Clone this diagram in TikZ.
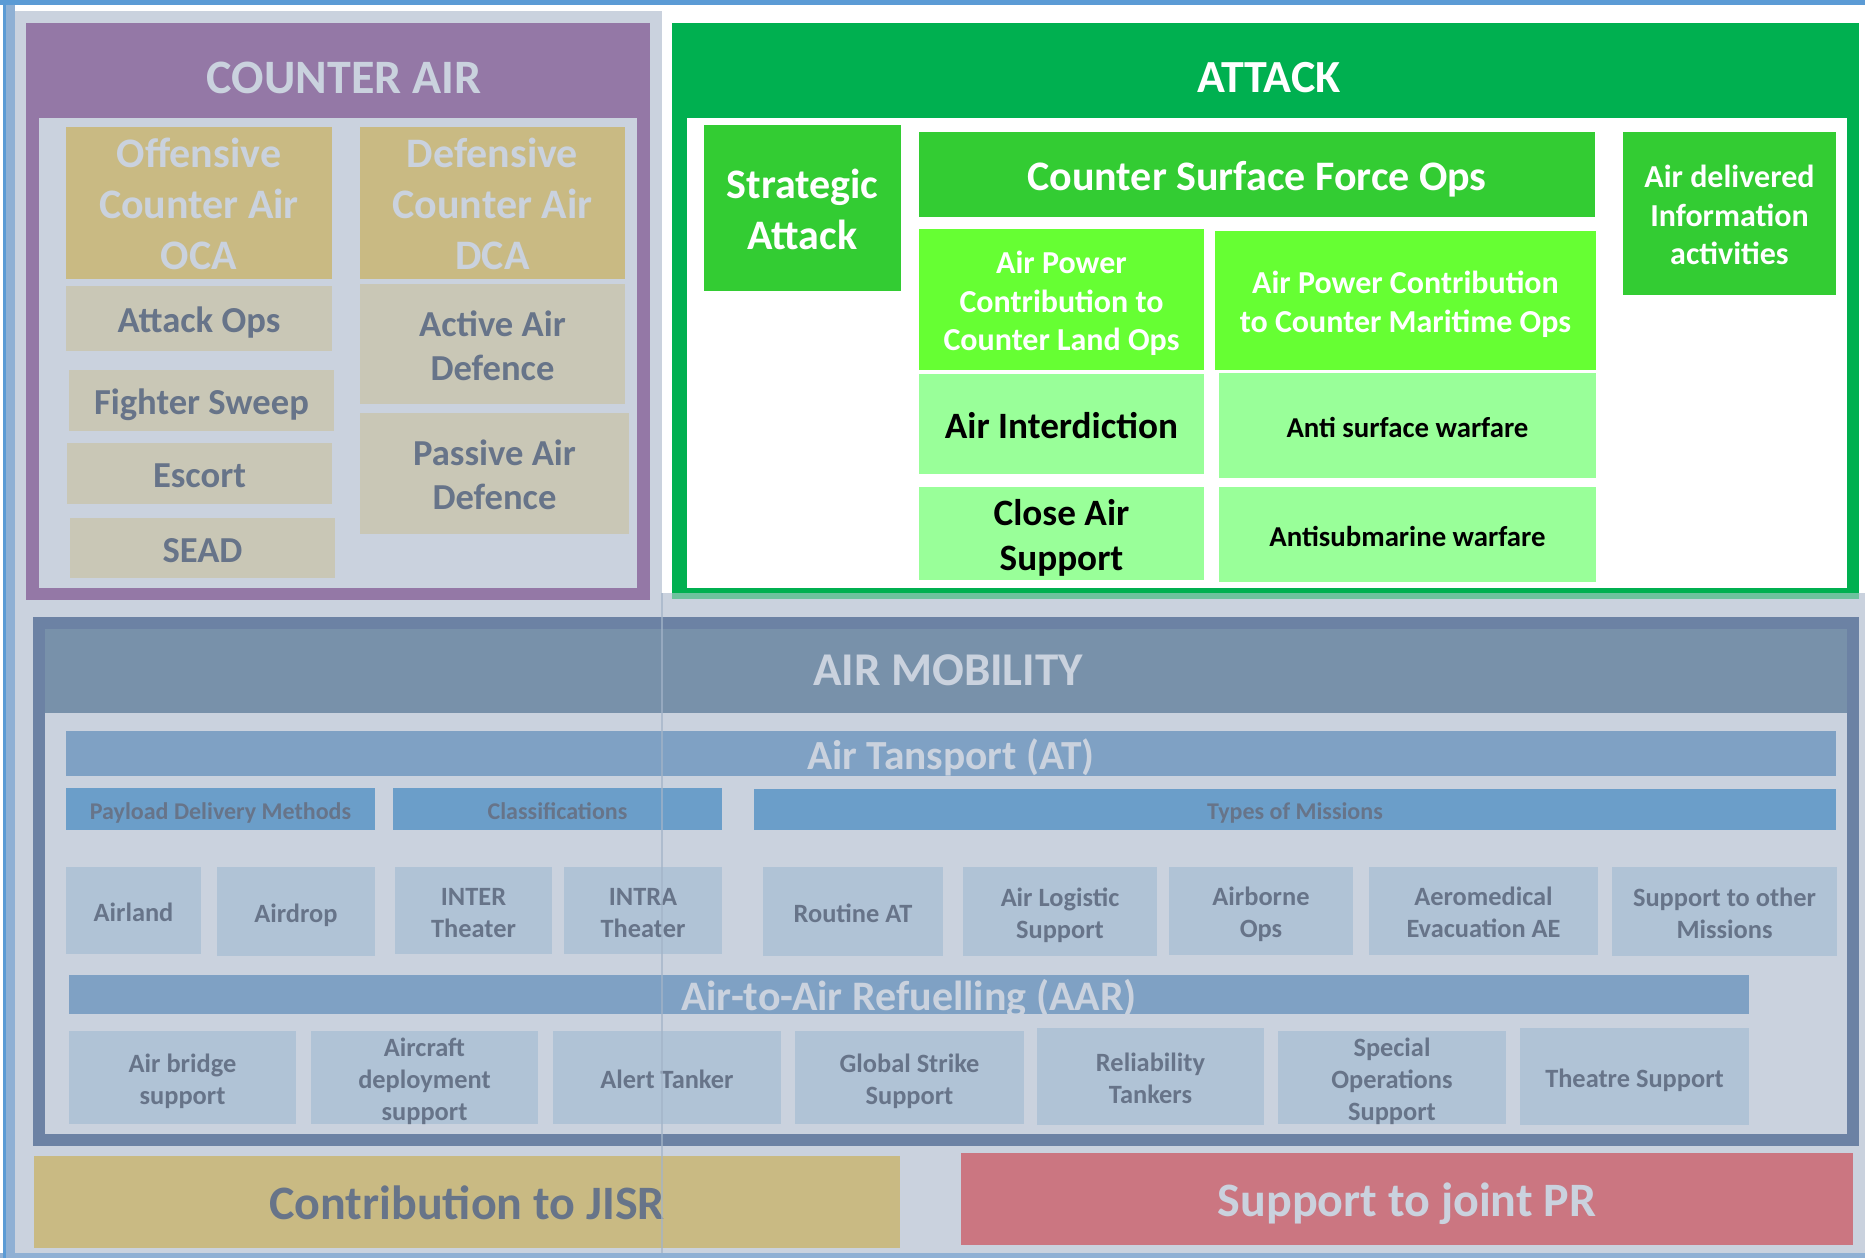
\documentclass[tikz,border=0pt]{standalone}
\usepackage{fontspec}
\setmainfont{Carlito}

\definecolor{framebl}{HTML}{5B9BD5}
\definecolor{framelt}{HTML}{8FB0D4}
\definecolor{panel}{HTML}{CAD2DE}
\definecolor{capurple}{HTML}{9478A6}
\definecolor{catan}{HTML}{C9BA83}
\definecolor{caitem}{HTML}{C9C7B6}
\definecolor{greytxt}{HTML}{677489}
\definecolor{atkgreen}{HTML}{00B050}
\definecolor{midgreen}{HTML}{33CC33}
\definecolor{limegreen}{HTML}{66FF33}
\definecolor{palegreen}{HTML}{99FF99}
\definecolor{ambord}{HTML}{6C82A4}
\definecolor{amhead}{HTML}{7891AA}
\definecolor{atbar}{HTML}{7FA1C4}
\definecolor{subbar}{HTML}{6B9EC9}
\definecolor{amitem}{HTML}{B0C3D6}
\definecolor{prred}{HTML}{CB7681}
\definecolor{vline}{HTML}{A3B4C8}

% name, x1, y1, x2, y2, style, text
\newcommand{\cellbox}[7]{\node[#6, minimum width={(#4-#2)*0.5pt}, minimum height={(#5-#3)*0.5pt}] (#1) at ({(#2+#4)/2},{(#3+#5)/2}) {#7};}

\tikzset{
  cell/.style={fill=#1, inner sep=0pt, align=center},
  txt/.style n args={3}{font=\fontsize{#1}{#2}\selectfont\bfseries, text height={0.632*#1pt+(#3-1)*#2pt+2.5pt}, text depth=0pt},
  lite/.style={text=panel},
  dark/.style={text=greytxt},
}

\begin{document}
\begin{tikzpicture}[x=0.5pt,y=-0.5pt]
\useasboundingbox (0,0) rectangle (1865,1258);

% frame and background
\fill[white] (0,0) rectangle (1865,1258);
\fill[framelt] (6,5) rectangle (15,1258);
\fill[framelt] (0,1253) rectangle (1865,1258);
\fill[framebl] (3,0) rectangle (6,1258);
\fill[framebl] (0,0) rectangle (1865,5);
\fill[panel] (15,11) rectangle (662,593);
\fill[panel] (15,593) rectangle (1865,1253);

% counter air
\fill[capurple] (26,23) rectangle (650,600);
\fill[panel] (39,118) rectangle (637,588);
\node[lite, inner sep=0pt, txt={24}{28}{1}] (catitle) at (344,76) {COUNTER AIR};
\cellbox{oca}{66}{127}{332}{279}{cell=catan, lite, txt={21}{25.5}{3}}{Offensive\\Counter Air\\OCA}
\cellbox{dca}{360}{127}{625}{279}{cell=catan, lite, txt={21}{25.5}{3}}{Defensive\\Counter Air\\DCA}
\cellbox{attackops}{66}{286}{332}{351}{cell=caitem, dark, txt={18.3}{22}{1}}{Attack Ops}
\cellbox{sweep}{69}{370}{334}{431}{cell=caitem, dark, txt={18.3}{22}{1}}{Fighter Sweep}
\cellbox{escort}{67}{443}{332}{504}{cell=caitem, dark, txt={18.3}{22}{1}}{Escort}
\cellbox{sead}{70}{518}{335}{578}{cell=caitem, dark, txt={18.3}{22}{1}}{SEAD}
\cellbox{active}{360}{284}{625}{404}{cell=caitem, dark, txt={18.3}{22}{2}}{Active Air\\Defence}
\cellbox{passive}{360}{413}{629}{534}{cell=caitem, dark, txt={18.3}{22}{2}}{Passive Air\\Defence}

% attack
\fill[atkgreen] (672,23) rectangle (1859,599);
\fill[white] (687,118) rectangle (1847,588);
\node[text=white, inner sep=0pt, txt={23}{27}{1}] (atktitle) at (1269,75) {ATTACK};
\cellbox{strategic}{704}{125}{901}{291}{cell=midgreen, text=white, txt={21}{25.5}{2}}{Strategic\\Attack}
\cellbox{csfo}{919}{132}{1595}{217}{cell=midgreen, text=white, txt={21}{25.5}{1}}{Counter Surface Force Ops}
\cellbox{info}{1623}{132}{1836}{295}{cell=midgreen, text=white, txt={16}{19.3}{3}}{Air delivered\\Information\\activities}
\cellbox{land}{919}{229}{1204}{370}{cell=limegreen, text=white, txt={16}{19.3}{3}}{Air Power\\Contribution to\\Counter Land Ops}
\cellbox{maritime}{1215}{231}{1596}{370}{cell=limegreen, text=white, txt={16}{19.3}{2}}{Air Power Contribution\\to Counter Maritime Ops}
\cellbox{interdiction}{919}{374}{1204}{474}{cell=palegreen, text=black, txt={18.6}{22.6}{1}}{Air Interdiction}
\cellbox{asuw}{1219}{373}{1596}{478}{cell=palegreen, text=black, txt={14.4}{18}{1}}{Anti surface warfare}
\cellbox{cas}{919}{487}{1204}{580}{cell=palegreen, text=black, txt={18.6}{22.6}{2}}{Close Air\\Support}
\cellbox{asw}{1219}{487}{1596}{582}{cell=palegreen, text=black, txt={14.4}{18}{1}}{Antisubmarine warfare}
\fill[panel, opacity=.55] (672,593) rectangle (1859,600);

% air mobility
\fill[ambord] (33,617) rectangle (1859,1146);
\fill[amhead] (45,629) rectangle (1847,713);
\fill[panel] (45,713) rectangle (1847,1134);
\node[lite, inner sep=0pt, txt={23.5}{28}{1}] (amtitle) at (948,668) {AIR MOBILITY};
\cellbox{at}{66}{731}{1836}{776}{cell=atbar, lite, txt={20.7}{25}{1}}{Air Tansport (AT)}
\cellbox{payload}{66}{788}{375}{830}{cell=subbar, dark, txt={12}{14}{1}}{Payload Delivery Methods}
\cellbox{classes}{393}{788}{722}{830}{cell=subbar, dark, txt={12}{14}{1}}{Classifications}
\cellbox{types}{754}{789}{1836}{830}{cell=subbar, dark, txt={12}{14}{1}}{Types of Missions}

\cellbox{airland}{66}{867}{201}{954}{cell=amitem, dark, txt={13.2}{16}{1}}{Airland}
\cellbox{airdrop}{217}{867}{375}{956}{cell=amitem, dark, txt={13.2}{16}{1}}{Airdrop}
\cellbox{inter}{395}{867}{552}{954}{cell=amitem, dark, txt={13.2}{16}{2}}{INTER\\Theater}
\cellbox{intra}{564}{867}{722}{954}{cell=amitem, dark, txt={13.2}{16}{2}}{INTRA\\Theater}
\cellbox{routine}{763}{867}{943}{956}{cell=amitem, dark, txt={13.2}{16}{1}}{Routine AT}
\cellbox{logistic}{963}{867}{1157}{956}{cell=amitem, dark, txt={13.2}{16}{2}}{Air Logistic\\Support}
\cellbox{airborne}{1169}{867}{1353}{955}{cell=amitem, dark, txt={13.2}{16}{2}}{Airborne\\Ops}
\cellbox{aeromed}{1369}{867}{1598}{955}{cell=amitem, dark, txt={13.2}{16}{2}}{Aeromedical\\Evacuation AE}
\cellbox{othermis}{1612}{867}{1837}{956}{cell=amitem, dark, txt={13.2}{16}{2}}{Support to other\\Missions}

\cellbox{aar}{69}{975}{1749}{1014}{cell=atbar, lite, txt={21}{25}{1}}{Air-to-Air Refuelling (AAR)}
\cellbox{bridge}{69}{1031}{296}{1124}{cell=amitem, dark, txt={13.2}{16}{2}}{Air bridge\\support}
\cellbox{deploy}{311}{1031}{538}{1124}{cell=amitem, dark, txt={13.2}{16}{3}}{Aircraft\\deployment\\support}
\cellbox{alert}{553}{1031}{781}{1124}{cell=amitem, dark, txt={13.2}{16}{1}}{Alert Tanker}
\cellbox{strike}{795}{1031}{1024}{1124}{cell=amitem, dark, txt={13.2}{16}{2}}{Global Strike\\Support}
\cellbox{reliab}{1037}{1028}{1264}{1125}{cell=amitem, dark, txt={13.2}{16}{2}}{Reliability\\Tankers}
\cellbox{specops}{1278}{1031}{1506}{1124}{cell=amitem, dark, txt={13.2}{16}{3}}{Special\\Operations\\Support}
\cellbox{theatre}{1520}{1028}{1749}{1125}{cell=amitem, dark, txt={13.2}{16}{1}}{Theatre Support}

% bottom row
\cellbox{jisr}{34}{1156}{900}{1248}{cell=catan, dark, txt={24}{28}{1}}{Contribution to JISR}
\cellbox{pr}{961}{1153}{1853}{1245}{cell=prred, lite, txt={24}{28}{1}}{Support to joint PR}

\draw[vline, line width=0.7pt, opacity=.7] (662,593) -- (662,1253);

\end{tikzpicture}
\end{document}
